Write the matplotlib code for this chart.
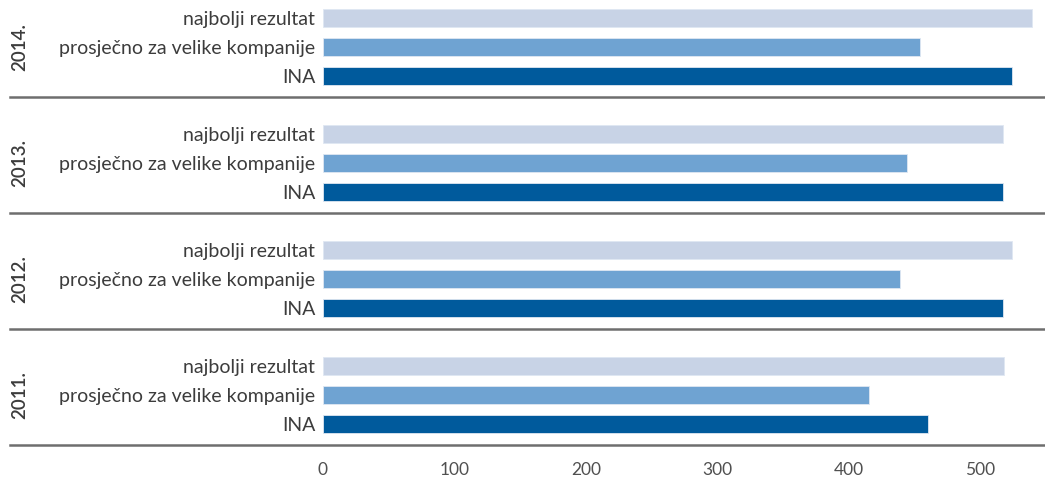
import matplotlib
matplotlib.use("Agg")
import matplotlib.pyplot as plt
import numpy as np

years = ["2014.", "2013.", "2012.", "2011."]
categories = ["najbolji rezultat", "prosječno za velike kompanije", "INA"]
najbolji = [539, 517, 524, 518]
prosjecno = [454, 444, 439, 415]
ina = [524, 517, 517, 460]

COLORS = ["#c8d3e6", "#6fa3d2", "#005a9c"]
TEXT = "#3c3c3c"
SEP = "#6e6e6e"

plt.rcParams.update({"font.family": ["Lato", "DejaVu Sans"]})

fig = plt.figure(figsize=(10.45, 4.8), dpi=100)
ax = fig.add_axes([323 / 1045, 1 - 447 / 480, 722 / 1045, 447 / 480])

GROUP, BAR_H = 4, 0.62
series = [najbolji, prosjecno, ina]
yt, yl = [], []
for g, year in enumerate(years):
    for k, vals in enumerate(series):
        y = g * GROUP + k
        ax.barh(y, vals[g], height=BAR_H, color=COLORS[k],
                edgecolor="#dfe7f2", linewidth=0.6)
        yt.append(y)
        yl.append(categories[k])
    ax.text(-0.42, g * GROUP + 1, year, transform=ax.get_yaxis_transform(),
            rotation=90, ha="center", va="center", fontsize=13.5, color=TEXT,
            fontweight="semibold")
    ax.axhline(g * GROUP + 2.72, xmin=-0.434, xmax=1, color=SEP, lw=1.8,
               clip_on=False)

ax.set_xlim(0, 549)
ax.set_ylim(14.8, -0.62)
ax.set_yticks(yt)
ax.set_yticklabels(yl, fontsize=14, color=TEXT)
ax.set_xticks(np.arange(0, 501, 100))
ax.tick_params(axis="y", length=0, pad=5.5)
ax.tick_params(axis="x", length=0, pad=11, labelsize=12.5, labelcolor="#505050")
for s in ax.spines.values():
    s.set_visible(False)

fig.savefig("out.png", dpi=100)
